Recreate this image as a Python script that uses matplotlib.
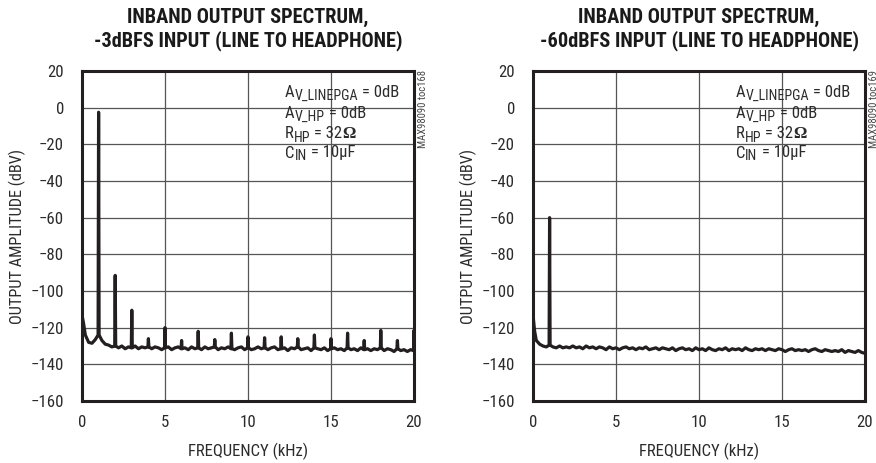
import os
import matplotlib
matplotlib.use('Agg')
import matplotlib.pyplot as plt
import numpy as np
from matplotlib import font_manager as fm
from matplotlib.font_manager import FontProperties

# ---------------- data ----------------
x_ticks = [0, 5, 10, 15, 20]
y_ticks = [20, 0, -20, -40, -60, -80, -100, -120, -140, -160]

# noise-floor frequencies (kHz): 0, 0.1, then 0.2 ... 20.0
floor_freq = [0.0, 0.1] + [round(0.2 * i, 1) for i in range(1, 101)]

left_floor_db = [-113, -118,
    -124, -128, -128.5, -126.5, -124, -127, -129, -129.5, -130.5, -130,
    -131, -130, -131.5, -130.5, -131, -130, -131.5, -130.5, -131, -130.5,
    -131.5, -130.5, -131, -132, -131, -130.5, -132, -131, -130.5, -131.5,
    -131, -132, -130.5, -131.5, -131, -132, -130.5, -131.5, -131, -130.5,
    -132, -131, -131.5, -130.5, -131.5, -132, -131, -130.5, -132, -131,
    -132, -131.5, -130.5, -131.5, -131, -132, -131, -130.5, -132, -131.5,
    -131, -132.5, -131, -131.5, -130.5, -132, -131.5, -131, -132.5, -131,
    -131.5, -132, -131, -132.5, -131.5, -131, -132, -131.5, -132.5, -131,
    -132, -131.5, -132.5, -131, -132, -131.5, -132.5, -131.5, -132, -131,
    -132.5, -131.5, -132, -133, -131.5, -132.5, -132, -133, -132, -132.5]

left_spike_freq = [1, 2, 3, 4, 5, 6, 7, 8, 9, 10, 11, 12, 13, 14, 15, 16, 17, 18, 19, 20]
left_spike_db = [-2.5, -91.5, -110.5, -126, -120, -127, -122, -126.5, -123, -125,
                 -125.5, -125, -126, -124, -126, -123, -127, -121.5, -127, -121.5]

right_floor_db = [-113, -122,
    -127, -129, -130, -130.5, -129.5, -130.5, -131, -130, -131, -130.5,
    -131, -130, -131, -130.5, -131.5, -130, -131, -130.5, -131.5, -130.5,
    -131, -132, -130.5, -131.5, -131, -132, -131, -130.5, -131.5, -131,
    -132, -131, -131.5, -130.5, -132, -131.5, -131, -132, -131, -131.5,
    -132, -131, -132.5, -131.5, -131, -132, -131.5, -132.5, -131, -132,
    -131.5, -132.5, -131, -132, -132.5, -131.5, -132, -131, -132.5, -131.5,
    -132, -131.5, -132.5, -131, -132, -132.5, -131.5, -132, -131.5, -132.5,
    -131.5, -132, -132.5, -131.5, -132, -133, -132, -131.5, -132.5, -132,
    -132.5, -132, -133, -132, -131.5, -132.5, -133, -132, -132.5, -133,
    -132.5, -133, -132, -133.5, -132.5, -133, -133.5, -132.5, -133.5, -134]

right_spike_freq = [1]
right_spike_db = [-60]

titles = [["INBAND OUTPUT SPECTRUM,", "-3dBFS INPUT (LINE TO HEADPHONE)"],
          ["INBAND OUTPUT SPECTRUM,", "-60dBFS INPUT (LINE TO HEADPHONE)"]]
side_ids = ["MAX98090 toc168", "MAX98090 toc169"]
x_label = "FREQUENCY (kHz)"
y_label = "OUTPUT AMPLITUDE (dBV)"

# ---------------- fonts: prefer a condensed face ----------------
files = {os.path.basename(f.fname): f.fname for f in fm.fontManager.ttflist}


def pick(names):
    for n in names:
        if n in files:
            return files[n]
    return None


REG = pick(['LiberationSansNarrow-Regular.ttf', 'NotoSans-Condensed.ttf',
            'NotoSans-CondensedRegular.ttf', 'RobotoCondensed-Regular.ttf',
            'OpenSans-CondensedRegular.ttf', 'DejaVuSansCondensed.ttf',
            'LiberationSans-Regular.ttf'])
BOLD = pick(['NotoSans-ExtraCondensedBlack.ttf', 'NotoSans-ExtraCondensedExtraBold.ttf',
             'NotoSans-ExtraCondensedBold.ttf', 'RobotoCondensed-Black.ttf',
             'RobotoCondensed-ExtraBold.ttf', 'LiberationSansNarrow-Bold.ttf',
             'NotoSans-CondensedExtraBold.ttf', 'NotoSans-CondensedBold.ttf',
             'RobotoCondensed-Bold.ttf', 'OpenSans-CondensedBold.ttf',
             'DejaVuSansCondensed-Bold.ttf', 'LiberationSans-Bold.ttf'])


def fp(size, bold=False):
    f = BOLD if bold else REG
    if f:
        return FontProperties(fname=f, size=size)
    return FontProperties(family=['Liberation Sans', 'DejaVu Sans'], size=size,
                          weight='bold' if bold else 'normal')


# ---------------- layout ----------------
W, H = 876, 463
fig = plt.figure(figsize=(W / 100, H / 100), dpi=100)
renderer = fig.canvas.get_renderer()

INK = '#231f20'
TXT = '#2b2b2b'


def fit_size(text, base, target_px, bold=False):
    t = fig.text(0, 0, text, fontproperties=fp(base, bold))
    w = t.get_window_extent(renderer).width
    t.remove()
    return min(base, base * target_px / w)


BODY = fit_size(x_label, 12.5, 121)
YLAB = fit_size(y_label, 14, 176)
TICK = fit_size('-160', 16, 29)
SUB = BODY * 10.5 / 12.5
TITLE = fit_size(titles[0][1], 16, 311, bold=True)
SIDE = fit_size(side_ids[0], 9, 78)


def build_trace(ff, fdb, sf, sdb, d=0.03):
    ff = np.asarray(ff, float)
    fdb = np.asarray(fdb, float)
    keep = np.ones(len(ff), bool)
    for f in sf:
        keep &= np.abs(ff - f) > d * 1.01
    xs = list(ff[keep])
    ys = list(fdb[keep])
    for f, p in zip(sf, sdb):
        base = float(np.interp(f, ff, fdb))
        xs += [f - d, f, f + d]
        ys += [base, p, base]
    order = np.argsort(xs, kind='stable')
    return np.asarray(xs)[order], np.asarray(ys)[order]


def rich(xpix, base_y, pieces, color=TXT):
    x = xpix
    for s, prop, dy in pieces:
        t = fig.text(x / W, 1 - (base_y + dy) / H, s, fontproperties=prop,
                     ha='left', va='baseline', color=color)
        x = t.get_window_extent(renderer).x1


OMEGA = FontProperties(family=['Liberation Serif', 'DejaVu Serif'], weight='bold', size=BODY)

panels = [
    dict(box=(82, 71, 414, 401), floor=left_floor_db, sf=left_spike_freq, sdb=left_spike_db),
    dict(box=(533, 71, 865, 401), floor=right_floor_db, sf=right_spike_freq, sdb=right_spike_db),
]

for i, p in enumerate(panels):
    l, t, r, b = p['box']
    ax = fig.add_axes([l / W, 1 - b / H, (r - l) / W, (b - t) / H])
    xs, ys = build_trace(floor_freq, p['floor'], p['sf'], p['sdb'])
    ax.plot(xs, ys, color=INK, lw=2.3, solid_joinstyle='round', zorder=3)
    ax.set_xlim(0, 20)
    ax.set_ylim(-160, 20)
    ax.set_xticks(x_ticks)
    ax.set_yticks(y_ticks)
    ax.grid(True, color='#555555', lw=0.9)
    ax.set_axisbelow(True)
    for s in ax.spines.values():
        s.set_linewidth(2.2)
        s.set_color(INK)
        s.set_zorder(4)
    ax.tick_params(axis='both', length=0, labelcolor=TXT)
    ax.tick_params(axis='x', pad=10)
    ax.tick_params(axis='y', pad=13)
    for lab in ax.get_xticklabels() + ax.get_yticklabels():
        lab.set_fontproperties(fp(TICK))

    cx = (l + r) / 2
    fig.text(cx / W, 1 - 23 / H, titles[i][0], fontproperties=fp(TITLE, True),
             ha='center', va='baseline', color='#1a1a1a')
    fig.text(cx / W, 1 - 46 / H, titles[i][1], fontproperties=fp(TITLE, True),
             ha='center', va='baseline', color='#1a1a1a')
    fig.text(cx / W, 1 - 456.5 / H, x_label, fontproperties=fp(BODY),
             ha='center', va='baseline', color=TXT)
    fig.text((l - 65) / W, 1 - 236 / H, y_label, fontproperties=fp(YLAB),
             rotation=90, ha='center', va='center', color=TXT)

    tx = l + 203
    rich(tx, 97, [("A", fp(BODY), 0), ("V_LINEPGA", fp(SUB), 3), (" = 0dB", fp(BODY), 0)])
    rich(tx, 117.5, [("A", fp(BODY), 0), ("V_HP", fp(SUB), 3), (" = 0dB", fp(BODY), 0)])
    rich(tx, 138.5, [("R", fp(BODY), 0), ("HP", fp(SUB), 3), (" = 32", fp(BODY), 0),
                     ("Ω", OMEGA, 0)])
    rich(tx, 157.5, [("C", fp(BODY), 0), ("IN", fp(SUB), 3), (" = 10µF", fp(BODY), 0)])

    fig.text((r + 9) / W, 1 - 109 / H, side_ids[i], fontproperties=fp(SIDE),
             rotation=90, ha='center', va='center', color='#444444')

fig.savefig('out.png', dpi=100)
